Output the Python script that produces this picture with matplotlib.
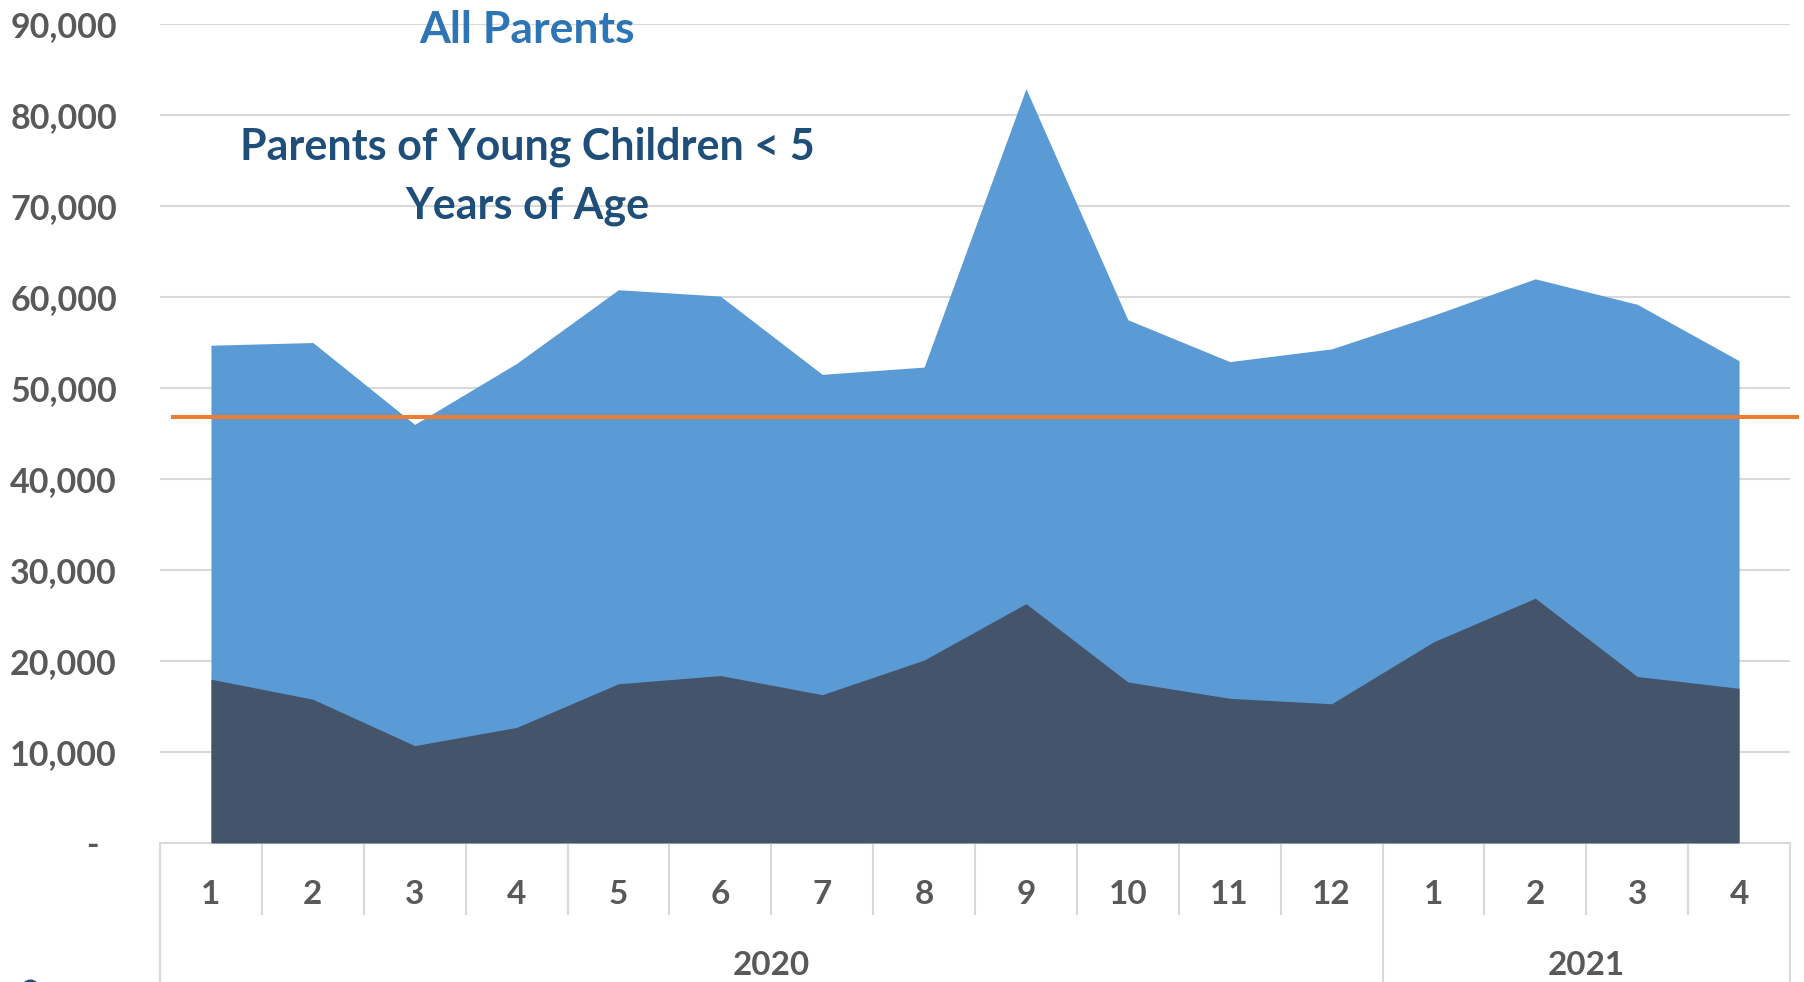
import matplotlib
matplotlib.use("Agg")
import matplotlib.pyplot as plt
import matplotlib.transforms as mtransforms
from matplotlib.lines import Line2D

# datos
meses = ["1", "2", "3", "4", "5", "6", "7", "8", "9", "10", "11", "12", "1", "2", "3", "4"]
anios = ["2020", "2021"]
meses_por_anio = [12, 4]

todos_padres = [54700, 55000, 46000, 52700, 60800, 60100, 51500, 52300,
                82900, 57500, 52900, 54300, 58000, 62000, 59200, 53000]
padres_ninos = [18000, 15800, 10700, 12700, 17500, 18400, 16300, 20100,
                26300, 17700, 15900, 15300, 22100, 26900, 18300, 17000]
linea_referencia = 46800

y_ticks = [0, 10000, 20000, 30000, 40000, 50000, 60000, 70000, 80000, 90000]
y_labels = ["-"] + [f"{v:,}" for v in y_ticks[1:]]

plt.rcParams["font.family"] = ["Lato", "DejaVu Sans"]
plt.rcParams["font.weight"] = "bold"

gris_texto = "#595959"
gris_linea = "#D9D9D9"

fig = plt.figure(figsize=(18.04, 9.82), dpi=100)
ax = fig.add_axes([0.0887, 0.14155, 0.90355, 0.83401])

x = list(range(len(meses)))

# areas superpuestas (no apiladas)
ax.fill_between(x, 0, todos_padres, color="#5B9BD5", linewidth=0, zorder=2)
ax.fill_between(x, 0, padres_ninos, color="#44546A", linewidth=0, zorder=3)

# linea naranja horizontal
ax.axhline(linea_referencia, xmin=0.008, xmax=1.0043, color="#ED7D31",
           linewidth=2.9, clip_on=False, zorder=4)

ax.set_xlim(-0.5, len(meses) - 0.5)
ax.set_ylim(0, 90000)
ax.set_axisbelow(True)
ax.grid(axis="y", color=gris_linea, linewidth=1.5)

for lado in ["top", "right", "left"]:
    ax.spines[lado].set_visible(False)
ax.spines["bottom"].set_color(gris_linea)
ax.spines["bottom"].set_linewidth(1.5)

ax.set_yticks(y_ticks)
ax.set_yticklabels(y_labels)
ax.tick_params(axis="y", length=0, pad=31, labelsize=24.5, labelcolor=gris_texto)
ax.set_xticks([])

# el guion del cero queda algo a la izquierda (formato contable)
etiqueta_cero = ax.get_yticklabels()[0]
etiqueta_cero.set_transform(etiqueta_cero.get_transform() +
                            mtransforms.ScaledTranslation(-0.18, 0, fig.dpi_scale_trans))

# eje de categorias de dos niveles
trans = ax.get_xaxis_transform()
for i, mes in enumerate(meses):
    ax.text(i, -0.074, mes, transform=trans, ha="center", va="baseline",
            fontsize=24, color=gris_texto, fontweight="bold")

limites = [0]
for n in meses_por_anio:
    limites.append(limites[-1] + n)

for i in range(len(meses) + 1):
    borde = i - 0.5
    if i in limites:
        y_fin = -0.175
    else:
        y_fin = -0.0867
    ax.add_line(Line2D([borde, borde], [0, y_fin], transform=trans, color=gris_linea,
                       linewidth=1.5, clip_on=False))

for k, anio in enumerate(anios):
    centro = (limites[k] + limites[k + 1] - 1) / 2
    ax.text(centro, -0.1607, anio, transform=trans, ha="center", va="baseline",
            fontsize=24, color=gris_texto, fontweight="bold")

# etiquetas de las series dentro del grafico
fig.text(527 / 1804, 1 - 30 / 982, "All Parents", ha="center", va="center",
         fontsize=32, color="#2E75B6", fontweight="bold")
fig.text(527 / 1804, 1 - 176 / 982, "Parents of Young Children < 5\nYears of Age",
         ha="center", va="center", multialignment="center", linespacing=1.55,
         fontsize=31, color="#1F4E79", fontweight="bold")

# marcador de leyenda cortado en la esquina inferior
fig.add_artist(Line2D([30 / 1804], [1 - 988 / 982], marker="o", markersize=12,
                      color="#1F4E79", linewidth=0, transform=fig.transFigure,
                      clip_on=False))

fig.savefig("out.png", dpi=100)
